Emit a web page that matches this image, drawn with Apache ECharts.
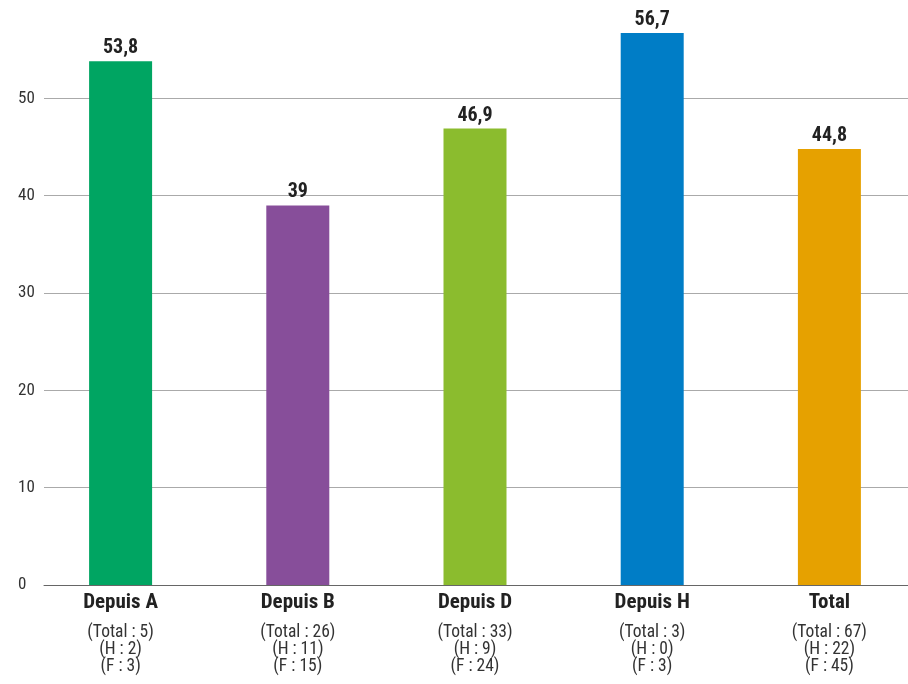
<!DOCTYPE html>
<html>
<head>
<meta charset="utf-8">
<script src="https://cdn.jsdelivr.net/npm/echarts@6/dist/echarts.min.js"></script>
<style>html,body{margin:0;padding:0;background:#fff}#c{width:908px;height:684px}</style>
</head>
<body>
<div id="c"></div>
<script>
const categories = ['Depuis A', 'Depuis B', 'Depuis D', 'Depuis H', 'Total'];
const values = [53.8, 39, 46.9, 56.7, 44.8];
const totals = [5, 26, 33, 3, 67];
const hCounts = [2, 11, 9, 0, 22];
const fCounts = [3, 15, 24, 3, 45];
const colors = ['#00A562', '#874E9A', '#8BBC2E', '#007DC6', '#E6A100'];
const yTicks = [0, 10, 20, 30, 40, 50];

const FONT = "'Roboto Condensed', Roboto, 'Noto Sans', sans-serif";
const chart = echarts.init(document.getElementById('c'));
const catLabels = categories.map((c, i) =>
  '{b|' + c + '}\n{s|(Total : ' + totals[i] + ')}\n{s|(H : ' + hCounts[i] + ')}\n{s|(F : ' + fCounts[i] + ')}');

chart.setOption({
  animation: false,
  grid: [
    { left: 44, right: 0, top: 1, bottom: 99, outerBoundsMode: 'none' },
    { left: 32, width: 886, top: 1, bottom: 99, outerBoundsMode: 'none' }
  ],
  xAxis: [
    { type: 'category', gridIndex: 0, data: categories, show: true,
      axisLine: { lineStyle: { color: '#666', width: 1 } }, axisTick: { show: false }, axisLabel: { show: false } },
    { type: 'category', gridIndex: 1, data: catLabels,
      axisLine: { show: false }, axisTick: { show: false },
      axisLabel: { margin: 19, interval: 0, fontFamily: FONT, verticalAlign: 'top',
        rich: {
          b: { fontSize: 21, fontWeight: 'bold', color: '#222', lineHeight: 20, padding: [0, 0, 23, 0], fontFamily: FONT },
          s: { fontSize: 17.5, color: '#333', lineHeight: 17, fontFamily: FONT }
        } } }
  ],
  yAxis: [
    { type: 'value', gridIndex: 0, min: 0, max: 60, interval: 10,
      axisLine: { show: false }, axisTick: { show: false },
      axisLabel: { margin: 26, align: 'left', fontSize: 17, color: '#333', fontFamily: FONT,
        formatter: v => yTicks.indexOf(v) >= 0 ? String(v) : '' },
      splitLine: { lineStyle: { color: ['#aaa', '#aaa', '#aaa', '#aaa', '#aaa', '#aaa', 'rgba(0,0,0,0)'], width: 1 } } },
    { type: 'value', gridIndex: 1, min: 0, max: 60, show: false }
  ],
  series: [{
    type: 'bar', xAxisIndex: 1, yAxisIndex: 1, barWidth: 63,
    data: values.map((v, i) => ({ value: v, itemStyle: { color: colors[i] } })),
    label: { show: true, position: 'top', distance: 3, fontFamily: FONT, fontSize: 20, fontWeight: 'bold', color: '#222',
      formatter: p => String(p.value).replace('.', ',') }
  }]
});
</script>
</body>
</html>
